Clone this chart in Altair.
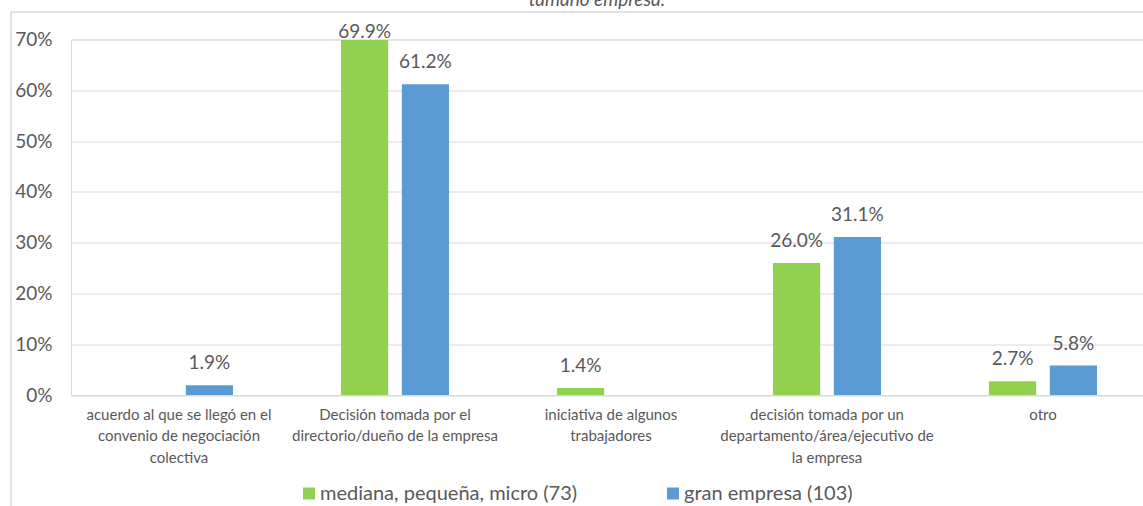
import altair as alt
import pandas as pd

categories = [
    "acuerdo al que se llegó en el\nconvenio de negociación\ncolectiva",
    "Decisión tomada por el\ndirectorio/dueño de la empresa",
    "iniciativa de algunos\ntrabajadores",
    "decisión tomada por un\ndepartamento/área/ejecutivo de\nla empresa",
    "otro",
]
series_names = ["mediana, pequeña, micro (73)", "gran empresa (103)"]
green_values = [None, 0.699, 0.014, 0.260, 0.027]
blue_values = [0.019, 0.612, None, 0.311, 0.058]
y_ticks = [0, 0.1, 0.2, 0.3, 0.4, 0.5, 0.6, 0.7]
title_text = "tamaño empresa."

rows = []
for s, vals in zip(series_names, [green_values, blue_values]):
    for c, v in zip(categories, vals):
        if v is not None:
            rows.append({"cat": c, "serie": s, "v": v})
df = pd.DataFrame(rows)

FONT = "Lato"
GRAY = "#595959"
LINE = "#D9D9D9"

x = alt.X("cat:N", sort=categories, title=None,
          scale=alt.Scale(paddingInner=0.5, paddingOuter=0.25, range=[0, 1080]),
          axis=alt.Axis(labelAngle=0, ticks=False, domainColor=LINE,
                        labelExpr="split(datum.label, '\\n')",
                        labelFontSize=15, labelColor=GRAY, labelFont=FONT,
                        labelLineHeight=21.5, labelPadding=12, labelLimit=300))
xo = alt.XOffset("serie:N", sort=series_names,
                 scale=alt.Scale(paddingInner=0.225, paddingOuter=0))
y = alt.Y("v:Q", title=None,
          scale=alt.Scale(domain=[0, 0.7], nice=False),
          axis=alt.Axis(values=y_ticks, format=".0%", ticks=False, domain=False,
                        gridColor=LINE, labelFontSize=19, labelColor=GRAY,
                        labelFont=FONT, labelPadding=19))
color = alt.Color("serie:N", sort=series_names,
                  scale=alt.Scale(domain=series_names, range=["#92D050", "#5B9BD5"]),
                  legend=alt.Legend(orient="none", legendX=228, legendY=444,
                                    direction="horizontal", title=None,
                                    symbolType="square", symbolSize=144,
                                    symbolStrokeWidth=0, labelFontSize=20,
                                    labelFont=FONT, labelColor=GRAY,
                                    labelOffset=1, columnPadding=85,
                                    labelLimit=500, padding=0))

base = alt.Chart(df)
bars = base.mark_bar().encode(x=x, xOffset=xo, y=y, color=color)
labels = base.transform_calculate(
    ly="min(datum.v + 0.0315, 0.7037)"
).mark_text(baseline="alphabetic", fontSize=19, font=FONT, color=GRAY).encode(
    x=alt.X("cat:N", sort=categories),
    xOffset=alt.XOffset("serie:N", sort=series_names),
    y=alt.Y("ly:Q"),
    text=alt.Text("v:Q", format=".1%"),
)

one = alt.Chart(alt.Data(values=[{"a": 1}]))
left_border = one.mark_rule(color=LINE, strokeWidth=1.5).encode(
    x=alt.value(-60), y=alt.value(-27.5), y2=alt.value(480))
top_border = one.mark_rule(color=LINE, strokeWidth=1.5).encode(
    x=alt.value(-60), x2=alt.value(1100), y=alt.value(-27.5))
title = one.mark_text(fontSize=19, font=FONT, fontStyle="italic", color=GRAY,
                      baseline="alphabetic", align="center").encode(
    x=alt.value(526), y=alt.value(-34), text=alt.value(title_text))

chart = alt.layer(bars, labels, left_border, top_border, title).properties(
    width=1072, height=355.5,
    autosize=alt.AutoSizeParams(type="none"),
    padding={"left": 71, "top": 39.5, "right": 0, "bottom": 111},
).configure_view(stroke=None).configure(font=FONT)

chart.save("out.html", embed_options={"renderer": "svg", "actions": False})
